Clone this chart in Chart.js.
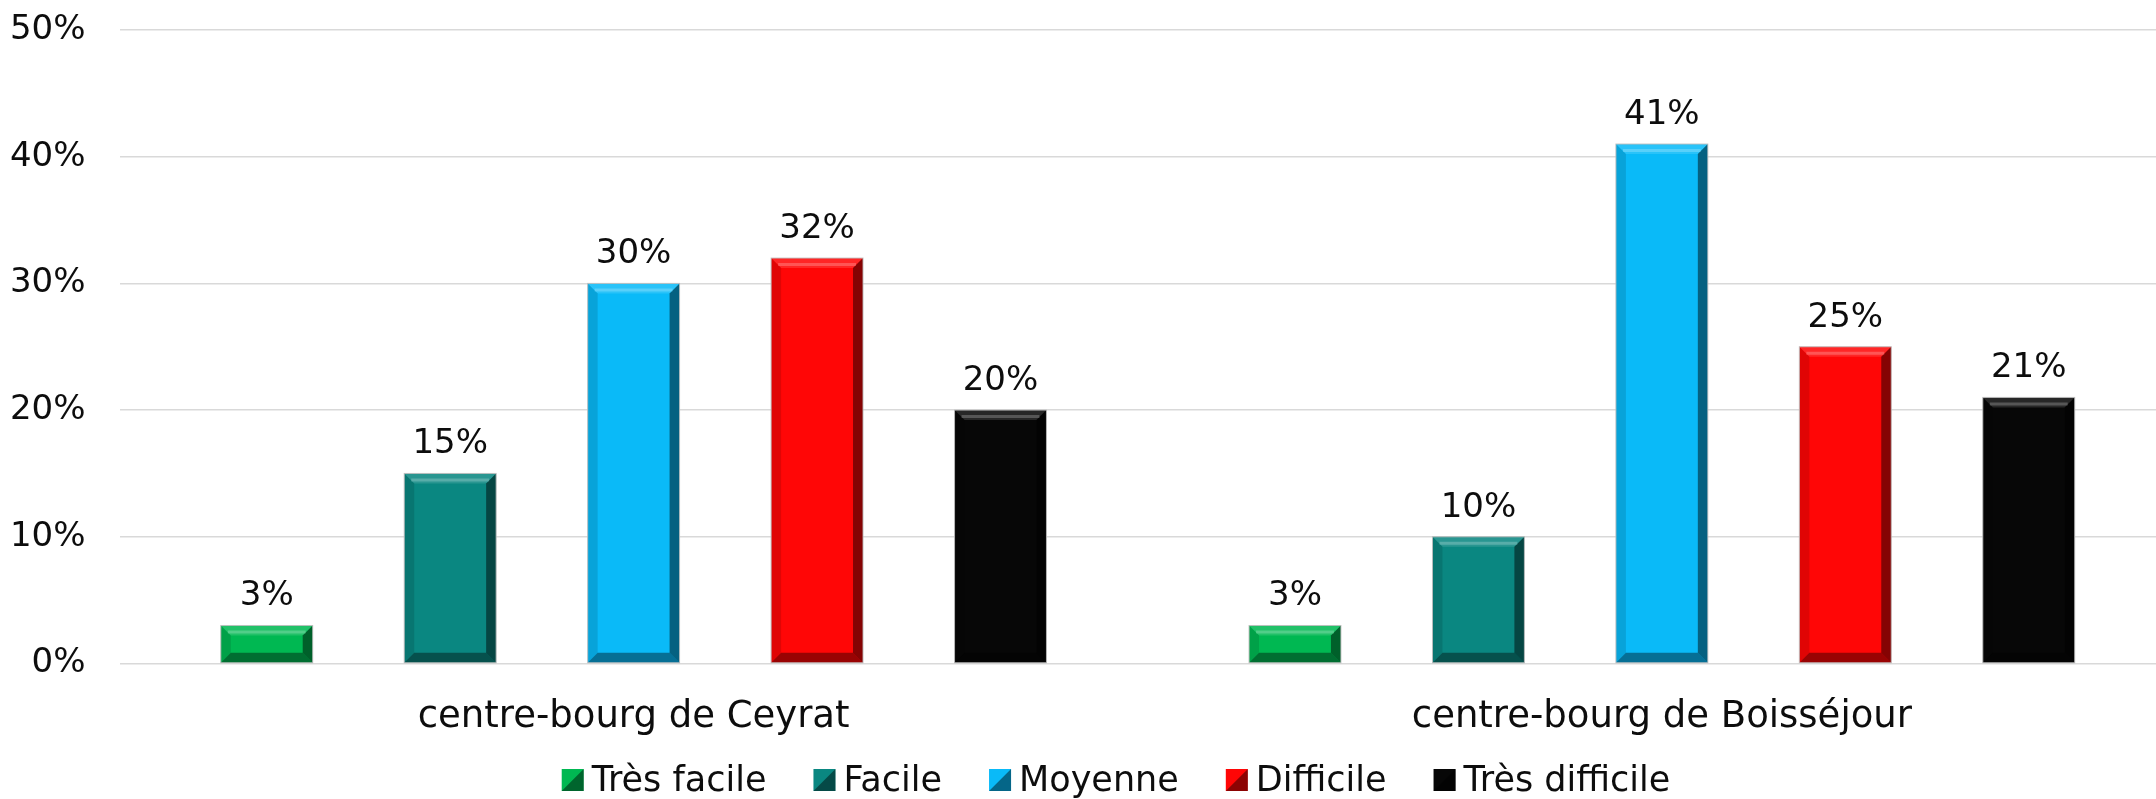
<!DOCTYPE html>
<html>
<head>
<meta charset="utf-8">
<script src="https://cdn.jsdelivr.net/npm/chart.js@4/dist/chart.umd.min.js"></script>
<style>
html, body { margin: 0; padding: 0; background: #fff; overflow: hidden; }
#wrap { width: 2156px; height: 799px; overflow: hidden; }
</style>
</head>
<body>
<div id="wrap"><canvas id="myChart" width="2232" height="799"></canvas></div>
<script>
const categories = ['centre-bourg de Ceyrat', 'centre-bourg de Boisséjour'];
const seriesNames = ['Très facile', 'Facile', 'Moyenne', 'Difficile', 'Très difficile'];
const tresFacile = [3, 3];
const facile = [15, 10];
const moyenne = [30, 41];
const difficile = [32, 25];
const tresDifficile = [20, 21];
const yTicks = [0, 10, 20, 30, 40, 50];
const colors = ['#00b852', '#0a8781', '#0abaf8', '#ff0606', '#070707'];

const FONT = '"DejaVu Sans", sans-serif';

function poly(ctx, pts, fill) {
    ctx.beginPath();
    ctx.moveTo(pts[0][0], pts[0][1]);
    for (let i = 1; i < pts.length; i++) ctx.lineTo(pts[i][0], pts[i][1]);
    ctx.closePath();
    ctx.fillStyle = fill;
    ctx.fill();
}

// excel-like bevel on each bar + value labels
const bevelPlugin = {
    id: 'bevel',
    afterDatasetsDraw(chart) {
        const ctx = chart.ctx;
        ctx.save();
        chart.data.datasets.forEach((ds, i) => {
            chart.getDatasetMeta(i).data.forEach((bar, j) => {
                const p = bar.getProps(['x', 'y', 'base', 'width'], true);
                const x0 = p.x - p.width / 2, x1 = p.x + p.width / 2;
                const y0 = p.y, y1 = p.base;
                const b = 10;
                poly(ctx, [[x0, y0], [x1, y0], [x1 - b, y0 + b], [x0 + b, y0 + b]], 'rgba(255,255,255,0.13)');
                poly(ctx, [[x0, y0], [x0 + b, y0 + b], [x0 + b, y1 - b], [x0, y1]], 'rgba(0,0,0,0.12)');
                poly(ctx, [[x1, y0], [x1, y1], [x1 - b, y1 - b], [x1 - b, y0 + b]], 'rgba(0,0,0,0.48)');
                poly(ctx, [[x0, y1], [x1, y1], [x1 - b, y1 - b], [x0 + b, y1 - b]], 'rgba(0,0,0,0.4)');
                ctx.strokeStyle = 'rgba(255,255,255,0.22)';
                ctx.lineWidth = 3;
                ctx.beginPath();
                ctx.moveTo(x0 + b * 0.7, y0 + b * 0.65);
                ctx.lineTo(x1 - b * 0.7, y0 + b * 0.65);
                ctx.stroke();
                ctx.strokeStyle = 'rgba(190,190,190,0.9)';
                ctx.lineWidth = 1;
                ctx.strokeRect(x0, y0, p.width, y1 - y0);

                ctx.fillStyle = '#0d0d0d';
                ctx.font = '34px ' + FONT;
                ctx.textAlign = 'center';
                ctx.textBaseline = 'alphabetic';
                ctx.fillText(ds.data[j] + '%', p.x, y0 - 20);
            });
        });
        ctx.restore();
    }
};

// legend drawn by hand to keep the tight box/text spacing
const legendPlugin = {
    id: 'customLegend',
    afterDraw(chart) {
        const ctx = chart.ctx;
        ctx.save();
        ctx.font = '35px ' + FONT;
        const box = 22, gapText = 8, gapItem = 47, cy = 780;
        const widths = seriesNames.map(n => ctx.measureText(n).width);
        let total = 0;
        widths.forEach((w, i) => { total += box + gapText + w + (i < widths.length - 1 ? gapItem : 0); });
        let x = chart.width / 2 - total / 2;
        seriesNames.forEach((name, i) => {
            const y = cy - box / 2;
            ctx.fillStyle = colors[i];
            ctx.fillRect(x, y, box, box);
            poly(ctx, [[x + box, y], [x + box, y + box], [x, y + box]], 'rgba(0,0,0,0.45)');
            ctx.fillStyle = '#0d0d0d';
            ctx.textAlign = 'left';
            ctx.textBaseline = 'alphabetic';
            ctx.fillText(name, x + box + gapText, 791);
            x += box + gapText + widths[i] + gapItem;
        });
        ctx.restore();
    }
};

const seriesData = [tresFacile, facile, moyenne, difficile, tresDifficile];

const ctx = document.getElementById('myChart').getContext('2d');
const myChart = new Chart(ctx, {
    type: 'bar',
    data: {
        labels: categories,
        datasets: seriesNames.map((name, i) => ({
            label: name,
            data: seriesData[i],
            backgroundColor: colors[i],
            borderWidth: 0,
            categoryPercentage: 0.892,
            barPercentage: 0.501
        }))
    },
    options: {
        responsive: false,
        animation: false,
        devicePixelRatio: 1,
        layout: { padding: { top: 30, right: 56, bottom: 60, left: 0 } },
        plugins: {
            legend: { display: false },
            tooltip: { enabled: false }
        },
        scales: {
            x: {
                grid: { display: false },
                border: { display: false },
                ticks: { font: { family: FONT, size: 37 }, color: '#0d0d0d', padding: 24 },
                afterFit: s => { s.height = 75.5; }
            },
            y: {
                min: 0,
                max: 50,
                afterBuildTicks: s => { s.ticks = yTicks.map(v => ({ value: v })); },
                ticks: {
                    font: { family: FONT, size: 34 },
                    color: '#0d0d0d',
                    padding: 34,
                    callback: v => v + '%'
                },
                grid: { color: '#d9d9d9', lineWidth: 1.5, drawTicks: false },
                border: { display: false },
                afterFit: s => { s.width = 119.5; s.paddingTop = 0; s.paddingBottom = 0; }
            }
        }
    },
    plugins: [bevelPlugin, legendPlugin]
});
</script>
</body>
</html>
